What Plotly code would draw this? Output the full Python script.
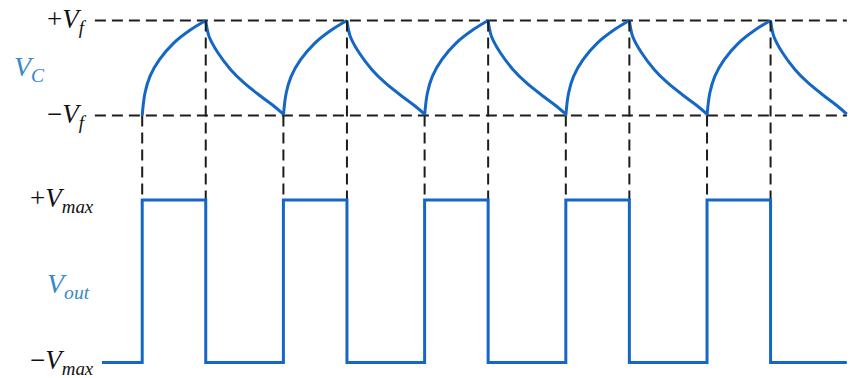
import plotly.graph_objects as go

# ---- data -------------------------------------------------------------
# time in arbitrary units (one oscillation period = 10 units)
rise_times = [2.85, 12.85, 22.85, 32.85, 42.85]   # Vout -> +Vmax, capacitor starts charging
fall_times = [7.35, 17.35, 27.35, 37.35, 47.35]   # Vout -> -Vmax, capacitor starts discharging
t_start = 0.0
t_end = 52.75

# capacitor voltage (in units of Vf) across one charging interval
charge_frac = [0.0, 0.043, 0.122, 0.271, 0.495, 0.761, 1.0]
charge_v = [-1.0, -0.53, -0.175, 0.175, 0.524, 0.804, 1.0]
# ... and across one discharging interval
discharge_frac = [0.0, 0.043, 0.159, 0.322, 0.494, 0.708, 0.880, 1.0]
discharge_v = [1.0, 0.664, 0.315, -0.035, -0.315, -0.594, -0.804, -0.97]

vf_levels = [1.0, -1.0]        # +Vf, -Vf
vmax_levels = [1.0, -1.0]      # +Vmax, -Vmax

vf_labels = ["+<i>V<sub>f</sub></i>", "−<i>V<sub>f</sub></i>"]
vmax_labels = ["+<i>V<sub>max</sub></i>", "−<i>V<sub>max</sub></i>"]
vc_label = "<i>V<sub>C</sub></i>"
vout_label = "<i>V<sub>out</sub></i>"

# ---- styling ----------------------------------------------------------
BLUE = "#1567c6"
LABEL_BLUE = "#3888c8"
DASH = "#1c1c1c"
FONT = "Liberation Serif, Times New Roman, serif"

# axis ranges: Vc and Vout share the same plot area, stacked vertically
vc_range = [-6.526, 1.432]
vout_range = [-1.191, 3.462]
x_range = [-7.22, 53.4]


def vc_to_vout(v):
    lo1, hi1 = vc_range
    lo2, hi2 = vout_range
    return lo2 + (v - lo1) / (hi1 - lo1) * (hi2 - lo2)


# ---- capacitor voltage trace -----------------------------------------
vc_x, vc_y = [], []
segments = []
for i, tr in enumerate(rise_times):
    tf = fall_times[i]
    segments.append((tr, tf, charge_frac, charge_v))
    t_next = rise_times[i + 1] if i + 1 < len(rise_times) else t_end
    segments.append((tf, t_next, discharge_frac, discharge_v))
for a, b, fr, vv in segments:
    vc_x += [a + f * (b - a) for f in fr] + [None]
    vc_y += list(vv) + [None]

# ---- output square wave ----------------------------------------------
sq_x, sq_y = [t_start], [vmax_levels[1]]
for tr, tf in zip(rise_times, fall_times):
    sq_x += [tr, tf]
    sq_y += [vmax_levels[0], vmax_levels[1]]
sq_x.append(t_end)
sq_y.append(vmax_levels[1])

fig = go.Figure()

DASH_STYLE = dict(color=DASH, width=2, dash="11px,6px")

# horizontal reference lines at +/-Vf
for lv in vf_levels:
    fig.add_trace(go.Scatter(
        x=[-0.5, t_end], y=[lv, lv], mode="lines",
        line=DASH_STYLE, hoverinfo="skip", yaxis="y"))

# vertical switching markers from Vc down to the +Vmax level
top = vc_to_vout(vf_levels[0])
bottom = vc_to_vout(vf_levels[1])
for tr in rise_times:
    fig.add_trace(go.Scatter(
        x=[tr, tr], y=[bottom, vmax_levels[0]], mode="lines",
        line=DASH_STYLE, hoverinfo="skip", yaxis="y2"))
for tf in fall_times:
    fig.add_trace(go.Scatter(
        x=[tf, tf], y=[top, vmax_levels[0]], mode="lines",
        line=DASH_STYLE, hoverinfo="skip", yaxis="y2"))

fig.add_trace(go.Scatter(
    x=vc_x, y=vc_y, mode="lines",
    line=dict(color=BLUE, width=3, shape="spline", smoothing=1.0),
    connectgaps=False, hoverinfo="skip", yaxis="y"))

fig.add_trace(go.Scatter(
    x=sq_x, y=sq_y, mode="lines",
    line=dict(color=BLUE, width=3, shape="hv"),
    hoverinfo="skip", yaxis="y2"))

# ---- labels -----------------------------------------------------------
ann = []
for lv, txt in zip(vf_levels, vf_labels):
    ann.append(dict(x=-0.95, y=lv, xref="x", yref="y", text=txt,
                    showarrow=False, xanchor="right", yanchor="middle",
                    font=dict(family=FONT, size=27, color="#111111")))
for lv, txt in zip(vmax_levels, vmax_labels):
    ann.append(dict(x=-0.45, y=lv, xref="x", yref="y2", text=txt,
                    showarrow=False, xanchor="right", yanchor="middle",
                    font=dict(family=FONT, size=27, color="#111111")))
ann.append(dict(x=-5.1, y=0.0, xref="x", yref="y", text=vc_label,
                showarrow=False, xanchor="center", yanchor="middle",
                font=dict(family=FONT, size=28, color=LABEL_BLUE)))
ann.append(dict(x=-2.4, y=-0.05, xref="x", yref="y2", text=vout_label,
                showarrow=False, xanchor="center", yanchor="middle",
                font=dict(family=FONT, size=28, color=LABEL_BLUE)))

fig.update_layout(
    width=856, height=378,
    margin=dict(l=0, r=0, t=0, b=0),
    paper_bgcolor="white", plot_bgcolor="white",
    showlegend=False,
    xaxis=dict(range=x_range, visible=False, fixedrange=True),
    yaxis=dict(range=vc_range, visible=False, fixedrange=True),
    yaxis2=dict(range=vout_range, visible=False, overlaying="y", fixedrange=True),
    annotations=ann,
)

fig.write_html("out.html")
